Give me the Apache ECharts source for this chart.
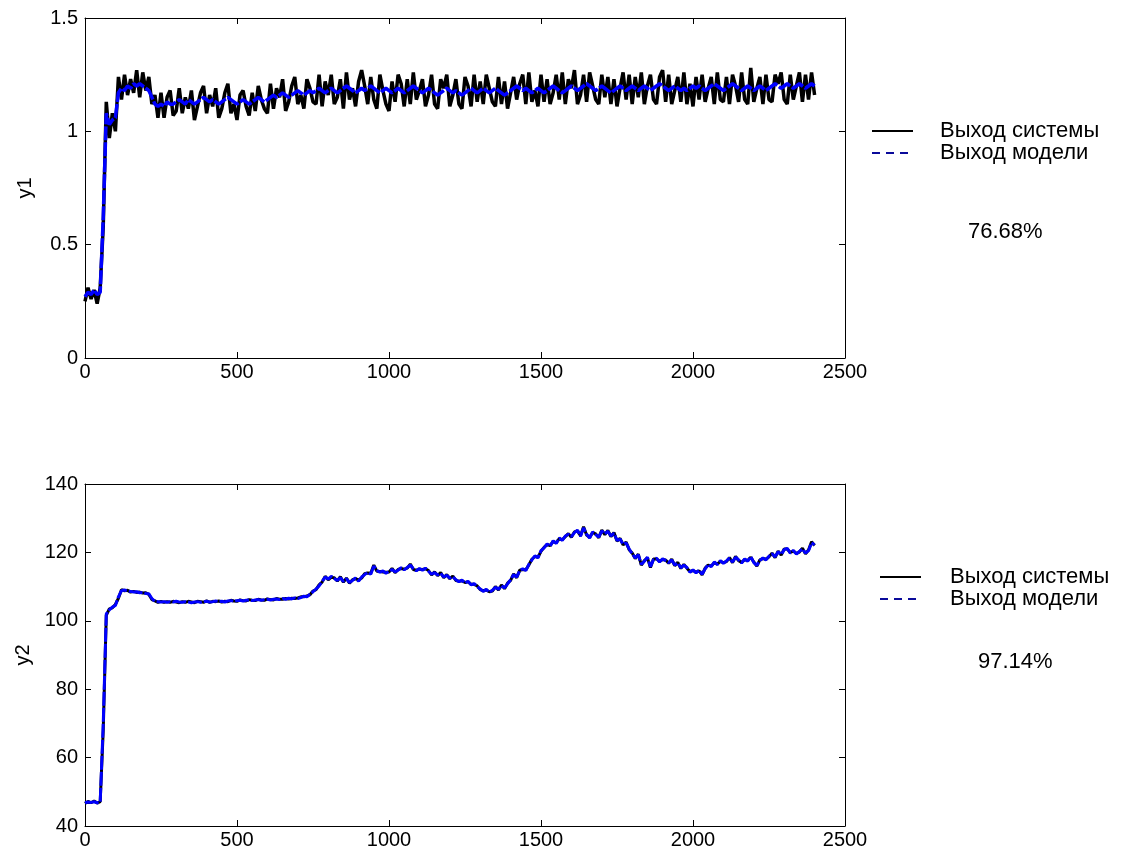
<!DOCTYPE html>
<html><head><meta charset="utf-8">
<script src="https://cdn.jsdelivr.net/npm/echarts@6/dist/echarts.min.js"></script>
<style>html,body{margin:0;padding:0;background:#fff}#c{width:1121px;height:861px}</style>
</head><body><div id="c"></div>
<script>
// sample number step between stored values
const sampleStep = 10;
const xTicks = [0, 500, 1000, 1500, 2000, 2500];
const legendNames = ['Выход системы', 'Выход модели'];
const fitLabels = ['76.68%', '97.14%'];

const y1System = [
0.25,0.31,0.26,0.30,0.24,0.31,
0.58,1.13,0.97,1.08,1.00,1.24,1.14,1.25,1.16,1.23,1.17,1.27,1.15,1.26,1.18,1.24,1.12,1.16,1.06,
1.17,1.06,1.15,1.18,1.07,1.09,1.19,1.08,1.15,1.10,1.18,1.05,1.11,1.17,1.20,1.08,1.16,1.11,1.19,1.06,1.10,1.17,1.21,1.08,1.12,1.05,1.16,1.18,1.11,1.07,1.17,1.09,1.20,1.14,1.10,1.08,
1.21,1.10,1.19,1.15,1.23,1.09,1.13,1.20,1.24,1.12,1.16,1.10,1.23,1.19,1.13,1.12,1.25,1.11,1.22,1.16,
1.25,1.12,1.15,1.23,1.10,1.26,1.14,1.19,1.11,1.22,
1.27,1.20,1.12,1.24,1.14,1.10,1.25,1.18,1.12,1.09,
1.22,1.13,1.25,1.21,1.11,1.23,1.12,1.26,1.14,1.18,
1.23,1.11,1.16,1.25,1.12,1.10,1.23,1.19,1.25,1.11,
1.16,1.23,1.12,1.10,1.24,1.20,1.11,1.25,1.13,1.22,
1.12,1.25,1.19,1.13,1.11,1.24,1.12,1.22,1.10,1.17,
1.24,1.14,1.21,1.25,1.12,1.26,1.13,1.18,1.11,1.25,
1.13,1.23,1.12,1.17,1.25,1.14,1.26,1.12,1.23,1.19,
1.27,1.12,1.16,1.25,1.13,1.26,1.20,1.14,1.12,1.25,
1.15,1.24,1.12,1.23,1.11,1.19,1.26,1.14,1.25,1.12,
1.24,1.15,1.26,1.12,1.20,1.25,1.14,1.12,1.24,1.27,
1.13,1.25,1.12,1.18,1.24,1.13,1.26,1.12,1.21,1.11,
1.24,1.14,1.25,1.13,1.19,1.24,1.12,1.26,1.14,1.13,
1.24,1.12,1.25,1.20,1.13,1.26,1.14,1.12,1.28,1.13,
1.19,1.24,1.12,1.25,1.14,1.13,1.25,1.21,1.26,1.14,
1.12,1.25,1.14,1.20,1.26,1.13,1.25,1.14,1.26,1.16
];

const y1Model = [
0.27,0.29,0.28,0.30,0.28,0.29,
0.62,1.08,1.03,1.05,1.06,1.17,1.19,1.18,1.20,1.19,1.21,1.20,1.21,1.20,1.19,1.18,1.15,1.12,1.11,
1.12,1.11,1.13,1.12,1.12,1.13,1.14,1.13,1.12,1.14,1.13,1.12,1.13,1.14,1.15,1.14,1.13,1.14,1.13,1.12,1.13,1.14,1.15,1.14,1.13,1.12,1.13,1.14,1.13,1.12,1.13,1.14,1.15,1.14,1.13,1.14,
1.15,1.16,1.15,1.16,1.17,1.16,1.15,1.16,1.17,1.18,1.17,1.16,1.17,1.18,1.17,1.18,1.19,1.18,1.17,1.18,
1.19,1.18,1.17,1.18,1.19,1.20,1.19,1.18,1.17,1.18,
1.19,1.18,1.19,1.20,1.19,1.18,1.17,1.18,1.19,1.18,
1.17,1.18,1.19,1.18,1.17,1.18,1.19,1.20,1.19,1.18,
1.17,1.18,1.19,1.18,1.17,1.16,1.17,1.18,1.19,1.18,
1.17,1.18,1.17,1.16,1.17,1.18,1.19,1.18,1.17,1.18,
1.19,1.18,1.17,1.18,1.19,1.18,1.17,1.16,1.17,1.18,
1.19,1.20,1.19,1.18,1.19,1.18,1.17,1.18,1.19,1.18,
1.17,1.18,1.19,1.20,1.19,1.18,1.17,1.18,1.19,1.20,
1.19,1.18,1.19,1.20,1.21,1.20,1.19,1.18,1.19,1.20,
1.19,1.18,1.17,1.18,1.19,1.20,1.19,1.18,1.19,1.20,
1.19,1.18,1.19,1.20,1.19,1.18,1.19,1.20,1.21,1.20,
1.19,1.18,1.19,1.20,1.19,1.18,1.19,1.18,1.19,1.20,
1.19,1.20,1.19,1.18,1.19,1.20,1.21,1.20,1.19,1.18,
1.19,1.20,1.21,1.20,1.19,1.18,1.19,1.20,1.19,1.18,
1.19,1.20,1.19,1.18,1.19,1.20,1.21,1.20,1.19,1.20,
1.21,1.20,1.19,1.20,1.21,1.20,1.19,1.20,1.21,1.20
];

const y2System = [
46.6,47.2,46.8,47.3,46.7,47.1,
68,101.6,103.5,103.8,104.8,106.6,109.1,108.8,108.9,108.4,108.6,108.3,108.4,108.1,108.2,107.7,106.2,105.8,105.4,
105.7,105.4,105.6,105.4,105.7,105.5,105.3,105.6,105.4,105.7,
105.5,105.3,105.7,105.6,105.4,105.8,105.4,105.7,105.6,105.8,
105.5,105.7,105.6,106.0,105.8,105.7,106.1,105.9,105.8,106.2,
106.0,105.9,106.3,106.1,106.0,106.4,106.2,106.1,106.5,106.3,
106.3,106.5,106.4,106.6,106.5,106.7,
107.0,107.0,107.3,107.6,108.7,109.1,110.5,111.3,113.0,112.0,
112.7,112.6,111.6,112.9,111.3,112.5,111.0,112.0,112.3,111.9,112.5,113.8,114.0,113.9,116.3,114.5,114.4,114.3,114.2,114.3,
115.3,114.1,115.0,115.3,115.1,115.4,116.6,115.0,114.8,115.1,115.0,115.2,114.7,113.4,114.3,113.2,114.1,112.6,113.5,112.3,
113.1,111.8,111.6,111.7,111.2,111.4,110.7,110.7,110.2,109.1,108.8,109.0,108.5,108.7,110.0,109.0,110.5,109.4,111.0,111.8,
113.7,112.6,114.8,115.0,114.9,116.3,118.0,118.8,118.6,120.3,121.5,122.3,122.0,123.2,122.8,124.0,123.7,124.6,125.5,124.4,
126.0,126.3,124.9,127.5,125.1,124.4,125.8,125.4,124.3,126.5,125.2,126.4,124.6,125.8,123.3,124.1,122.2,123.0,120.8,119.8,
118.2,119.5,116.3,117.6,118.4,115.6,118.1,118.1,117.4,117.9,117.8,116.8,118.0,116.1,117.1,115.3,116.5,115.4,114.4,114.7,
114.2,114.6,113.4,115.4,116.3,116.0,117.0,116.6,117.4,117.0,117.3,118.5,117.0,118.8,117.6,117.1,117.9,117.6,118.6,117.2,
116.0,117.8,118.2,118.0,118.7,119.8,118.5,120.4,119.2,121.0,121.0,120.0,120.4,119.7,120.1,121.2,119.6,120.7,123.1,122.0
];

const y2Model = [
46.8,47.0,46.9,47.1,46.8,47.0,
70,102.0,103.2,104.0,104.5,107.0,108.8,109.0,108.7,108.6,108.4,108.5,108.2,108.3,108.0,107.9,106.5,105.7,105.6,
105.5,105.6,105.4,105.6,105.5,105.7,105.5,105.4,105.6,105.5,
105.3,105.5,105.6,105.4,105.6,105.7,105.5,105.6,105.8,105.6,
105.7,105.5,105.8,105.9,105.7,105.9,106.0,105.8,106.0,106.1,
105.9,106.1,106.2,106.0,106.2,106.3,106.1,106.3,106.4,106.2,
106.5,106.3,106.6,106.4,106.7,106.5,
106.8,107.2,107.0,107.8,108.5,109.3,110.2,111.5,112.8,112.2,
113.0,112.4,111.8,112.6,111.5,112.3,111.2,111.8,112.5,111.6,112.8,113.5,114.2,113.6,116.0,114.8,114.2,114.6,113.9,114.5,
115.0,114.3,114.8,115.5,114.9,115.6,116.3,115.2,114.6,115.3,114.8,115.4,114.5,113.6,114.1,113.4,113.9,112.8,113.3,112.5,
112.9,112.0,111.4,111.9,111.0,111.6,110.5,110.9,110.0,109.3,108.6,109.2,108.3,108.9,109.8,109.2,110.3,109.6,110.8,112.0,
113.5,112.8,114.6,115.2,114.7,116.5,117.8,119.0,118.4,120.5,121.3,122.5,121.8,123.4,122.6,124.2,123.5,124.8,125.3,124.6,
125.8,126.5,124.7,127.2,125.3,124.2,126.0,125.2,124.5,126.3,125.4,126.2,124.8,125.6,123.5,123.9,122.4,122.8,121.0,119.6,
118.4,119.3,116.5,117.4,118.6,115.8,117.9,118.3,117.2,118.1,117.6,117.0,117.8,116.3,116.9,115.5,116.3,115.6,114.2,114.9,
114.0,114.8,113.6,115.2,116.5,115.8,117.2,116.4,117.6,116.8,117.5,118.3,117.2,118.6,117.8,116.9,118.1,117.4,118.8,117.0,
116.2,117.6,118.4,117.8,118.9,119.6,118.7,120.2,119.4,120.8,121.2,119.8,120.6,119.5,120.3,121.0,119.8,120.5,122.8,122.2
];

function pairs(arr){ return arr.map((v,i)=>[i*sampleStep, v]); }

const FONT = '"Liberation Sans", Arial, sans-serif';
const FS = 20;      // tick labels and axis names
const FS2 = 22;     // legend / fit text
const txt = {color:'#000', fontFamily: FONT, fontSize: FS};

function xAxisPair(gi){
  return [
    {type:'value', gridIndex:gi, min:xTicks[0], max:xTicks[xTicks.length-1], interval:500, position:'bottom',
     axisLine:{show:true, onZero:false, lineStyle:{color:'#000', width:1}},
     axisTick:{show:true, inside:true, length:6, lineStyle:{color:'#000'}},
     axisLabel:Object.assign({margin:4, formatter:(v)=>String(v)}, txt), splitLine:{show:false}},
    {type:'value', gridIndex:gi, min:xTicks[0], max:xTicks[xTicks.length-1], interval:500, position:'top',
     axisLine:{show:true, onZero:false, lineStyle:{color:'#000', width:1}},
     axisTick:{show:true, inside:true, length:6, lineStyle:{color:'#000'}},
     axisLabel:{show:false}, splitLine:{show:false}}
  ];
}
function yAxisPair(gi, min, max, interval, name){
  return [
    {type:'value', gridIndex:gi, min:min, max:max, interval:interval, position:'left',
     name:name, nameLocation:'middle', nameGap:50, nameRotate:90, nameTextStyle:txt,
     axisLine:{show:true, onZero:false, lineStyle:{color:'#000', width:1}},
     axisTick:{show:true, inside:true, length:6, lineStyle:{color:'#000'}},
     axisLabel:Object.assign({margin:7, formatter:(v)=>String(v)}, txt), splitLine:{show:false}},
    {type:'value', gridIndex:gi, min:min, max:max, interval:interval, position:'right',
     axisLine:{show:true, onZero:false, lineStyle:{color:'#000', width:1}},
     axisTick:{show:true, inside:true, length:6, lineStyle:{color:'#000'}},
     axisLabel:{show:false}, splitLine:{show:false}}
  ];
}

function textEl(str, x, y){
  return {type:'text', x:x, y:y, style:{text:str, fill:'#000', font:FS2+'px '+FONT, verticalAlign:'middle', textVerticalAlign:'middle'}};
}
function legendEls(x0, y0, textX){
  return [
    {type:'line', shape:{x1:x0, y1:y0, x2:x0+41, y2:y0}, style:{stroke:'#000', lineWidth:2}},
    textEl(legendNames[0], textX, y0),
    {type:'line', shape:{x1:x0, y1:y0+22, x2:x0+41, y2:y0+22}, style:{stroke:'#0a0a9a', lineWidth:2, lineDash:[8,6]}},
    textEl(legendNames[1], textX, y0+22)
  ];
}

const chart = echarts.init(document.getElementById('c'), null, {renderer:'canvas'});
const sysStyle = {color:'#000', width:3.5, type:'solid'};
const modStyle = {color:'#0000ff', width:3.5, type:[14,2]};

chart.setOption({
  animation:false,
  backgroundColor:'#fff',
  textStyle:{fontFamily:FONT},
  grid:[
    {left:85, top:18, width:760, height:340},
    {left:85, top:484, width:760, height:342}
  ],
  xAxis:[...xAxisPair(0), ...xAxisPair(1)],
  yAxis:[...yAxisPair(0, 0, 1.5, 0.5, 'y1'), ...yAxisPair(1, 40, 140, 20, 'y2')],
  graphic:[
    ...legendEls(872, 131, 940),
    ...legendEls(880, 577, 950),
    textEl(fitLabels[0], 968, 232),
    textEl(fitLabels[1], 978, 662)
  ],
  series:[
    {name:legendNames[0], type:'line', xAxisIndex:0, yAxisIndex:0, data:pairs(y1System), showSymbol:false, lineStyle:sysStyle, itemStyle:{color:'#000'}},
    {name:legendNames[1], type:'line', xAxisIndex:0, yAxisIndex:0, data:pairs(y1Model), showSymbol:false, lineStyle:modStyle, itemStyle:{color:'#0000ff'}},
    {name:legendNames[0], type:'line', xAxisIndex:2, yAxisIndex:2, data:pairs(y2System), showSymbol:false, lineStyle:{color:'#000', width:3}, itemStyle:{color:'#000'}},
    {name:legendNames[1], type:'line', xAxisIndex:2, yAxisIndex:2, data:pairs(y2Model), showSymbol:false, lineStyle:{color:'#0000ff', width:3, type:[14,2]}, itemStyle:{color:'#0000ff'}}
  ]
});
</script>
</body></html>
